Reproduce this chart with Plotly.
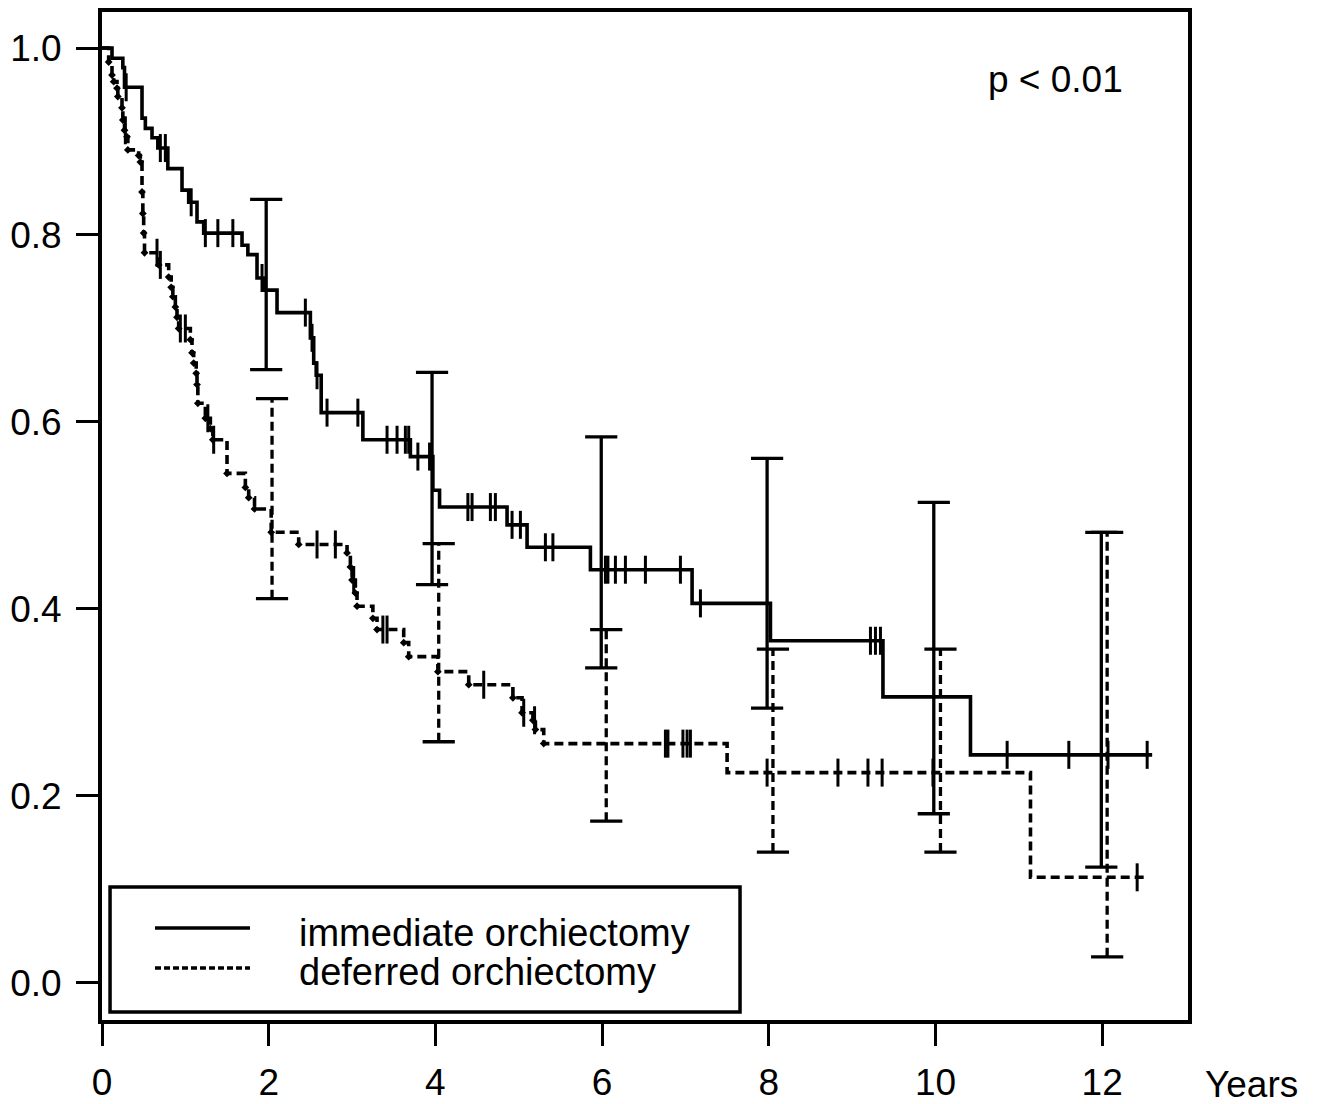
import plotly.graph_objects as go

# ---------------- data ----------------
imm_t = [0, 0.12, 0.25, 0.27, 0.48, 0.52, 0.60, 0.67, 0.79, 0.96, 1.04, 1.14, 1.22, 1.68, 1.75,
         1.86, 1.95, 2.10, 2.50, 2.54, 2.57, 2.63, 3.13, 3.70, 3.97, 4.05, 4.86, 5.10, 5.86, 7.08,
         8.02, 9.37, 10.42]
imm_s = [1.0, 0.989, 0.979, 0.958, 0.925, 0.914, 0.904, 0.893, 0.871, 0.848, 0.835, 0.814, 0.802,
         0.789, 0.779, 0.754, 0.741, 0.717, 0.690, 0.663, 0.650, 0.610, 0.581, 0.563, 0.527, 0.509,
         0.490, 0.466, 0.442, 0.406, 0.366, 0.306, 0.244]
imm_end = 12.60
imm_cens = [0.29, 0.70, 0.76, 1.07, 1.24, 1.39, 1.57, 1.92, 2.44, 2.52, 2.58, 2.70, 3.07, 3.42,
            3.54, 3.64, 3.68, 3.79, 3.93, 4.39, 4.44, 4.66, 4.72, 4.92, 5.02, 5.32, 5.41, 6.04,
            6.07, 6.16, 6.28, 6.52, 6.94, 7.18, 9.22, 9.28, 9.34, 10.86, 11.60, 12.07, 12.54]

def_t = [0, 0.08, 0.12, 0.14, 0.18, 0.19, 0.24, 0.25, 0.27, 0.30, 0.31, 0.44, 0.46, 0.48, 0.49,
         0.50, 0.51, 0.68, 0.80, 0.83, 0.85, 0.88, 0.90, 0.92, 1.06, 1.08, 1.10, 1.13, 1.14, 1.15,
         1.24, 1.30, 1.33, 1.50, 1.72, 1.76, 1.83, 2.03, 2.36, 2.94, 2.98, 3.00, 3.04, 3.06, 3.25,
         3.30, 3.62, 3.68, 4.03, 4.40, 4.93, 5.04, 5.17, 5.20, 5.30, 7.50, 11.14]
def_s = [1.0, 0.985, 0.971, 0.964, 0.957, 0.948, 0.936, 0.923, 0.912, 0.905, 0.891, 0.885, 0.878,
         0.846, 0.823, 0.802, 0.781, 0.768, 0.755, 0.744, 0.734, 0.723, 0.712, 0.700, 0.688, 0.674,
         0.663, 0.652, 0.640, 0.620, 0.604, 0.593, 0.581, 0.545, 0.530, 0.519, 0.507, 0.482, 0.469,
         0.460, 0.445, 0.431, 0.417, 0.403, 0.390, 0.378, 0.364, 0.349, 0.333, 0.319, 0.305, 0.289,
         0.281, 0.271, 0.256, 0.225, 0.113]
def_end = 12.52
def_cens = [0.28, 0.66, 0.70, 0.94, 1.00, 1.27, 1.34, 2.58, 2.80, 3.02, 3.37, 3.42, 4.58, 5.06,
            5.19, 6.76, 6.79, 6.97, 7.02, 7.06, 7.98, 8.83, 9.19, 9.36, 9.97, 12.42]

imm_eb_t = [1.97, 3.96, 5.99, 7.98, 9.98, 11.99]
imm_eb_lo = [0.656, 0.426, 0.337, 0.294, 0.181, 0.124]
imm_eb_hi = [0.838, 0.653, 0.584, 0.561, 0.514, 0.482]
def_eb_t = [2.04, 4.04, 6.05, 8.05, 10.06, 12.06]
def_eb_lo = [0.411, 0.258, 0.173, 0.140, 0.140, 0.028]
def_eb_hi = [0.625, 0.470, 0.378, 0.357, 0.357, 0.482]

x_ticks = [0, 2, 4, 6, 8, 10, 12]
y_ticks = [0.0, 0.2, 0.4, 0.6, 0.8, 1.0]
labels = ["immediate orchiectomy", "deferred orchiectomy"]
p_text = "p < 0.01"
x_unit = "Years"

# ---------------- style ----------------
FONT = "Liberation Sans, Arial, Helvetica, sans-serif"
FS = 37
LW = 3.6
DASH = "9px,5px"
BLACK = "black"


def step_value(ts, ss, c):
    v = ss[0]
    for t, s in zip(ts, ss):
        if t <= c:
            v = s
    return v


fig = go.Figure()


def add_group(ts, ss, end, cens, eb_t, eb_lo, eb_hi, dash, event_dots):
    # survival step curve
    fig.add_trace(go.Scatter(x=ts + [end], y=ss + [ss[-1]], mode="lines", line_shape="hv",
                             line=dict(color=BLACK, width=LW, dash=dash),
                             showlegend=False, hoverinfo="skip"))
    if event_dots:
        # small dots at the event corners (as rendered in the original dashed curve)
        ex = [t for t in ts[1:] if t < 5.4]
        ey = [s for t, s in zip(ts[1:], ss[1:]) if t < 5.4]
        fig.add_trace(go.Scatter(x=ex, y=ey, mode="markers",
                                 marker=dict(symbol="diamond", size=6, color=BLACK),
                                 showlegend=False, hoverinfo="skip"))
    # censor marks
    fig.add_trace(go.Scatter(x=cens, y=[step_value(ts, ss, c) for c in cens], mode="markers",
                             marker=dict(symbol="line-ns", size=20, color=BLACK,
                                         line=dict(color=BLACK, width=3)),
                             showlegend=False, hoverinfo="skip"))
    # confidence bars
    xs, ys = [], []
    for t, lo, hi in zip(eb_t, eb_lo, eb_hi):
        xs += [t, t, None]
        ys += [lo, hi, None]
    fig.add_trace(go.Scatter(x=xs, y=ys, mode="lines",
                             line=dict(color=BLACK, width=3.3, dash=dash),
                             showlegend=False, hoverinfo="skip"))
    fig.add_trace(go.Scatter(x=eb_t + eb_t, y=eb_lo + eb_hi, mode="markers",
                             marker=dict(symbol="line-ew", size=23, color=BLACK,
                                         line=dict(color=BLACK, width=3.3)),
                             showlegend=False, hoverinfo="skip"))


add_group(imm_t, imm_s, imm_end, imm_cens, imm_eb_t, imm_eb_lo, imm_eb_hi, "solid", False)
add_group(def_t, def_s, def_end, def_cens, def_eb_t, def_eb_lo, def_eb_hi, DASH, True)

# ---------------- legend (drawn manually) ----------------
fig.add_shape(type="rect", xref="paper", yref="paper", x0=0.0074, x1=0.5875, y0=0.0079, y1=0.1319,
              line=dict(color=BLACK, width=3.5), fillcolor="white", layer="above")
fig.add_shape(type="line", xref="paper", yref="paper", x0=0.0488, x1=0.1363, y0=0.0913, y1=0.0913,
              line=dict(color=BLACK, width=LW), layer="above")
fig.add_shape(type="line", xref="paper", yref="paper", x0=0.0488, x1=0.1363, y0=0.0516, y1=0.0516,
              line=dict(color=BLACK, width=LW, dash="6px,3px"), layer="above")
fig.add_annotation(text=labels[0], xref="paper", yref="paper", x=0.1796, y=0.0863,
                   xanchor="left", yanchor="middle", showarrow=False,
                   font=dict(family=FONT, size=38, color=BLACK))
fig.add_annotation(text=labels[1], xref="paper", yref="paper", x=0.1796, y=0.0476,
                   xanchor="left", yanchor="middle", showarrow=False,
                   font=dict(family=FONT, size=38, color=BLACK))

fig.add_annotation(text=p_text, x=11.44, y=0.966, xref="x", yref="y", showarrow=False,
                   xanchor="center", yanchor="middle", font=dict(family=FONT, size=FS, color=BLACK))
fig.add_annotation(text=x_unit, xref="paper", yref="paper", x=1.0, y=0.0, xanchor="left",
                   yanchor="middle", xshift=15, yshift=-64, showarrow=False,
                   font=dict(family=FONT, size=FS, color=BLACK))

axis_common = dict(showline=True, linewidth=4, linecolor=BLACK, mirror=True, ticks="outside",
                   ticklen=22, tickwidth=3, tickcolor=BLACK, showgrid=False, zeroline=False,
                   automargin=False, tickfont=dict(family=FONT, size=FS, color=BLACK))

fig.update_layout(
    width=1324, height=1104,
    margin=dict(l=102, r=136, t=12, b=84),
    paper_bgcolor="white", plot_bgcolor="white",
    showlegend=False,
    xaxis=dict(range=[0, 13.03], tickvals=x_ticks, ticklabelstandoff=5, **axis_common),
    yaxis=dict(range=[-0.0396, 1.0385], tickvals=y_ticks, tickformat=".1f",
               ticklabelstandoff=7, **axis_common),
)

fig.write_html("out.html", config={"displayModeBar": False},
               post_script="document.body.style.margin='0';")
